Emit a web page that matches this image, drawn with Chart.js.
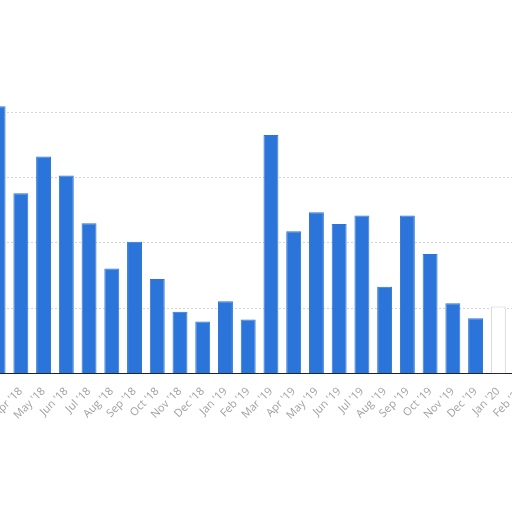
<!DOCTYPE html>
<html>
<head>
<meta charset="utf-8">
<script src="https://cdn.jsdelivr.net/npm/chart.js@4"></script>
<style>
  html, body { margin: 0; padding: 0; background: #fff; overflow: hidden; }
  #wrap { position: absolute; left: -32px; top: 0; width: 565px; height: 512px; }
</style>
</head>
<body>
<div id="wrap"><canvas id="monthChart"></canvas></div>
<script>
const months = ["Mar '18", "Apr '18", "May '18", "Jun '18", "Jul '18", "Aug '18", "Sep '18", "Oct '18",
  "Nov '18", "Dec '18", "Jan '19", "Feb '19", "Mar '19", "Apr '19", "May '19", "Jun '19", "Jul '19",
  "Aug '19", "Sep '19", "Oct '19", "Nov '19", "Dec '19", "Jan '20", "Feb '20"];
const counts = [409, 276, 332, 303, 230, 161, 202, 145, 95, 80, 111, 83, 365, 218, 247, 229, 242,
  133, 242, 183, 108, 85, 103, null];
const yTicks = [0, 100, 200, 300, 400];

const blue = '#2b74d9';
const partialIndex = months.length - 2; // current month, drawn hollow

new Chart(document.getElementById('monthChart'), {
  type: 'bar',
  data: {
    labels: months,
    datasets: [{
      label: 'Count',
      data: counts,
      backgroundColor: ctx => ctx.dataIndex === partialIndex ? '#ffffff' : blue,
      borderColor: ctx => ctx.dataIndex === partialIndex ? '#cfcfcf' : blue,
      borderWidth: 1,
      categoryPercentage: 0.8,
      barPercentage: 0.82
    }]
  },
  options: {
    responsive: true,
    maintainAspectRatio: false,
    animation: false,
    layout: { padding: { top: 99, bottom: 87, left: 0, right: 0 } },
    plugins: {
      legend: { display: false },
      tooltip: { enabled: false }
    },
    scales: {
      x: {
        grid: { display: false },
        border: { color: '#222', width: 1 },
        ticks: {
          color: '#a0a0a0',
          font: { family: 'Open Sans', size: 11 },
          maxRotation: 45,
          minRotation: 45,
          autoSkip: false
        }
      },
      y: {
        min: 0,
        max: 420,
        afterBuildTicks: axis => { axis.ticks = yTicks.map(v => ({ value: v })); },
        grid: { color: '#d4d4d4', drawTicks: false, lineWidth: 1 },
        border: { display: false, dash: [2, 2] },
        ticks: { display: false }
      }
    }
  }
});
</script>
</body>
</html>
